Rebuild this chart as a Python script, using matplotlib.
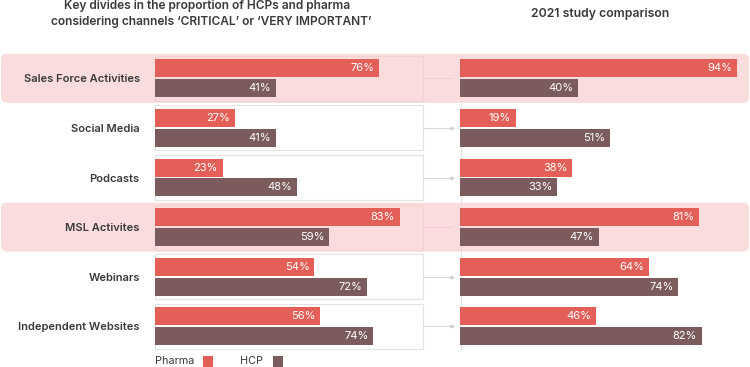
import matplotlib.pyplot as plt
from matplotlib.patches import FancyBboxPatch, Rectangle

plt.rcParams['font.family'] = ['Inter', 'DejaVu Sans']

channels = ['Sales Force Activities', 'Social Media', 'Podcasts',
            'MSL Activites', 'Webinars', 'Independent Websites']
pharma_now = [76, 27, 23, 83, 54, 56]
hcp_now = [41, 41, 48, 59, 72, 74]
pharma_2021 = [94, 19, 38, 81, 64, 46]
hcp_2021 = [40, 51, 33, 47, 74, 82]
highlight = [0, 3]

PHARMA = '#E35F58'
HCP = '#7C5B5C'
BAND = '#FBDCDC'
TXT = '#3A3A3A'

W, H = 750, 367
fig = plt.figure(figsize=(7.5, 3.67), dpi=100)

# background layer in pixel coordinates
bg = fig.add_axes([0, 0, 1, 1], zorder=0)
bg.set_xlim(0, W)
bg.set_ylim(H, 0)
bg.axis('off')

row0, step = 78.3, 49.6
top = row0 - step / 2
bottom = top + step * len(channels)


def panel(left_px):
    ax = fig.add_axes([left_px / W, (H - bottom) / H, 295 / W, (bottom - top) / H], zorder=2)
    ax.set_xlim(0, 100)
    ax.set_ylim(len(channels) - 0.5, -0.5)
    ax.patch.set_alpha(0)
    for s in ax.spines.values():
        s.set_visible(False)
    ax.set_xticks([])
    return ax


axl = panel(155)
axr = panel(460)

for i in range(len(channels)):
    yc = row0 + i * step
    if i in highlight:
        bg.add_patch(FancyBboxPatch((1, yc - 24.5), 748, 49,
                                    boxstyle='round,pad=0,rounding_size=6',
                                    fc=BAND, ec='none'))
        bg.add_patch(Rectangle((155, yc - 22.5), 268, 45, fc='none', ec='#f5d0d0', lw=0.8))
        bg.plot([425, 452], [yc, yc], color='#efcaca', lw=0.6)
    else:
        bg.add_patch(Rectangle((155, yc - 22.5), 268, 45, fc='none', ec='#e3e3e3', lw=0.8))
        bg.plot([423, 452], [yc, yc], color='#cfcfcf', lw=0.6)
        bg.plot([452], [yc], marker='>', ms=2, color='#cfcfcf')

bg.plot([460.5, 460.5], [100, 350], color='#dddddd', lw=0.6)

ys = list(range(len(channels)))
for ax, ph, hc in [(axl, pharma_now, hcp_now), (axr, pharma_2021, hcp_2021)]:
    b1 = ax.barh([y - 0.2 for y in ys], ph, height=0.365, color=PHARMA)
    b2 = ax.barh([y + 0.2 for y in ys], hc, height=0.365, color=HCP)
    for bars, vals in [(b1, ph), (b2, hc)]:
        for bar, v in zip(bars, vals):
            ax.annotate(f'{v}%', (v, bar.get_y() + bar.get_height() / 2),
                        xytext=(-3.5, 0), textcoords='offset points',
                        ha='right', va='center', color='white', fontsize=8)

axl.set_yticks(ys)
axl.set_yticklabels(channels, fontsize=8, color=TXT, fontweight='semibold')
axl.tick_params(axis='y', length=0, pad=11)
axr.set_yticks([])

bg.text(207, 6, 'Key divides in the proportion of HCPs and pharma', ha='center', va='center',
        fontsize=8.6, color=TXT, fontweight='semibold')
bg.text(211, 22, "considering channels \u2018CRITICAL\u2019 or \u2018VERY IMPORTANT\u2019", ha='center',
        va='center', fontsize=8.6, color=TXT, fontweight='semibold')
bg.text(600, 14, '2021 study comparison', ha='center', va='center',
        fontsize=8.8, color=TXT, fontweight='semibold')

# legend
bg.text(155, 361, 'Pharma', ha='left', va='center', fontsize=7.8, color=TXT)
bg.add_patch(Rectangle((203, 356), 10, 12, fc=PHARMA, ec='none'))
bg.text(240, 361, 'HCP', ha='left', va='center', fontsize=7.8, color=TXT)
bg.add_patch(Rectangle((273, 356), 10, 12, fc=HCP, ec='none'))

fig.savefig('out.png', dpi=100)
